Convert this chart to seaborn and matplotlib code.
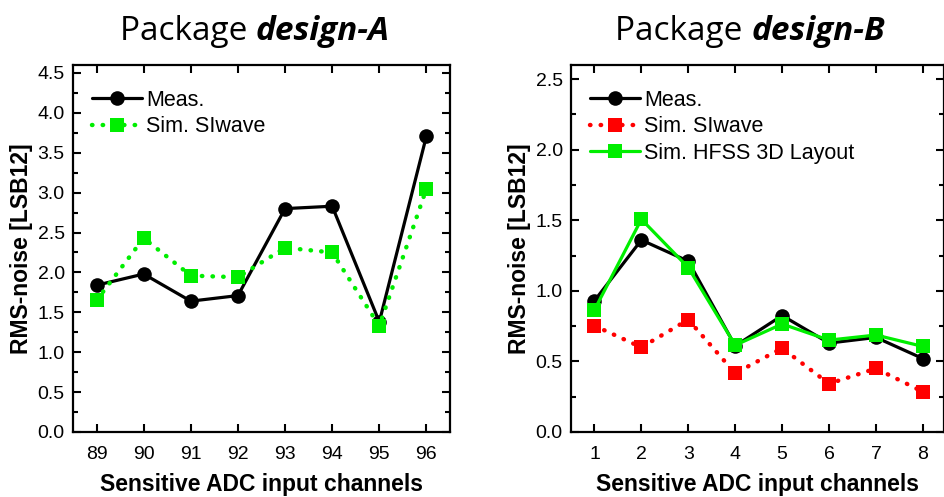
import matplotlib
matplotlib.use("Agg")
import matplotlib.pyplot as plt
import seaborn as sns
import numpy as np
from matplotlib.ticker import MultipleLocator

# ---- data ----
channels_a = [89, 90, 91, 92, 93, 94, 95, 96]
meas_a = [1.84, 1.98, 1.64, 1.71, 2.80, 2.83, 1.38, 3.71]
siwave_a = [1.65, 2.43, 1.96, 1.94, 2.31, 2.25, 1.33, 3.05]

channels_b = [1, 2, 3, 4, 5, 6, 7, 8]
meas_b = [0.93, 1.36, 1.21, 0.61, 0.825, 0.63, 0.67, 0.52]
siwave_b = [0.753, 0.60, 0.796, 0.416, 0.594, 0.342, 0.45, 0.285]
hfss_b = [0.865, 1.507, 1.165, 0.615, 0.765, 0.651, 0.687, 0.606]

title_a = ("Package ", "design-A")
title_b = ("Package ", "design-B")
xlabel = "Sensitive ADC input channels"
ylabel = "RMS-noise [LSB12]"

sns.set_theme(style="ticks")
plt.rcParams["font.family"] = ["Liberation Sans", "DejaVu Sans"]
plt.rcParams["text.color"] = "black"
plt.rcParams["axes.labelcolor"] = "black"
plt.rcParams["xtick.color"] = "black"
plt.rcParams["ytick.color"] = "black"

fig = plt.figure(figsize=(9.45, 4.97), dpi=100)
axA = fig.add_axes([73/945, 65/497, 377/945, 367/497])
axB = fig.add_axes([571/945, 65/497, 373/945, 367/497])

GREEN = "#00ee00"
RED = "#ff0000"
lw = 2.3
ms_c = 10.5
ms_s = 9.5

def dotted(ax, x, y, color, label):
    sns.lineplot(x=x, y=y, ax=ax, color=color, marker="s", markersize=ms_s,
                 markeredgewidth=0, linewidth=3.2, label=label)
    line = ax.get_lines()[-1]
    line.set_linestyle((0, (0.1, 2.3)))
    line.set_dash_capstyle("round")
    return line

# Panel A
sns.lineplot(x=channels_a, y=meas_a, ax=axA, color="black", marker="o",
             markersize=ms_c, markeredgewidth=0, linewidth=lw, label="Meas.")
dotted(axA, channels_a, siwave_a, GREEN, "Sim. SIwave")

# Panel B
sns.lineplot(x=channels_b, y=meas_b, ax=axB, color="black", marker="o",
             markersize=ms_c, markeredgewidth=0, linewidth=lw, label="Meas.")
dotted(axB, channels_b, siwave_b, RED, "Sim. SIwave")
sns.lineplot(x=channels_b, y=hfss_b, ax=axB, color=GREEN, marker="s",
             markersize=ms_s, markeredgewidth=0, linewidth=lw,
             label="Sim. HFSS 3D Layout")

def style(ax, xt, xlim, ylim):
    ax.set_xlim(*xlim)
    ax.set_ylim(*ylim)
    ax.set_xticks(xt)
    ax.yaxis.set_major_locator(MultipleLocator(0.5))
    ax.yaxis.set_minor_locator(MultipleLocator(0.25))
    ax.yaxis.set_major_formatter(matplotlib.ticker.FormatStrFormatter("%.1f"))
    ax.tick_params(axis="both", which="both", direction="in", top=True, right=True,
                   labelsize=14, width=1.5, colors="black", pad=6)
    ax.tick_params(axis="x", pad=10)
    ax.tick_params(which="major", length=6)
    ax.tick_params(which="minor", length=3.5)
    for s in ax.spines.values():
        s.set_linewidth(1.6)
        s.set_color("black")
    ax.set_xlabel(xlabel, fontsize=16.5, fontweight="bold", labelpad=7)
    ax.set_ylabel(ylabel, fontsize=16.5, fontweight="bold", labelpad=3)
    ax.legend(loc="upper left", frameon=False, fontsize=15.5, handlelength=2.3,
              handletextpad=0.2, labelspacing=0.25, borderaxespad=0.5,
              bbox_to_anchor=(0.0, 0.985))

style(axA, channels_a, (88.5, 96.5), (0, 4.6))
style(axB, channels_b, (0.5, 8.45), (0, 2.6))

# Titles with mixed styles
tfam = ["Open Sans", "DejaVu Sans"]
tsize = 24
titles = []
for ax, (p1, p2), cx in ((axA, title_a, 255), (axB, title_b, 750)):
    t1 = fig.text(0, 1 - 40/497, p1, fontsize=tsize, family=tfam, va="baseline", ha="left")
    t2 = fig.text(0, 1 - 40/497, p2, fontsize=tsize, family=tfam, va="baseline", ha="left",
                  fontweight="bold", style="italic")
    titles.append((t1, t2, cx))

fig.canvas.draw()
r = fig.canvas.get_renderer()
for t1, t2, cx in titles:
    w1 = t1.get_window_extent(r).width
    w2 = t2.get_window_extent(r).width
    x0 = cx - (w1 + w2) / 2
    t1.set_x(x0 / 945)
    t2.set_x((x0 + w1) / 945)

fig.savefig("out.png", dpi=100)
